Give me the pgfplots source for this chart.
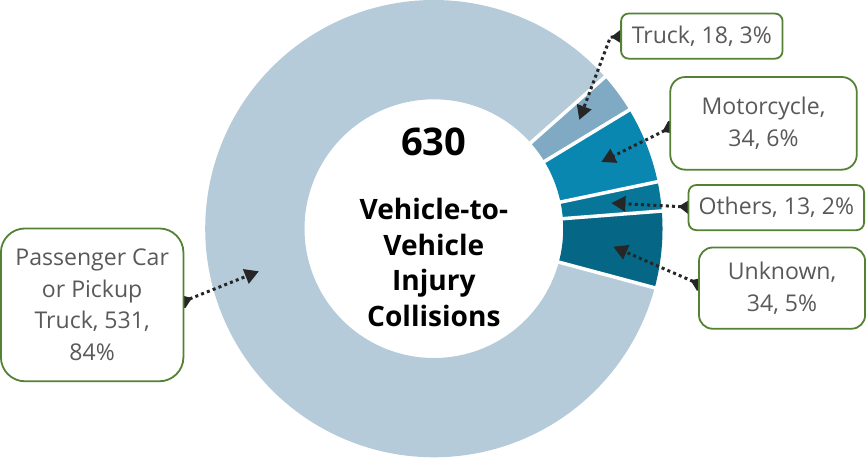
\documentclass[border=0pt]{standalone}
\usepackage{pgfplots}
\pgfplotsset{compat=1.18}
\usepackage{fontspec}
\setmainfont{Open Sans}
\usetikzlibrary{arrows.meta}
\definecolor{cPass}{HTML}{B5CBD9}
\definecolor{cTruck}{HTML}{80AAC4}
\definecolor{cMoto}{HTML}{0A87B0}
\definecolor{cOther}{HTML}{087698}
\definecolor{cUnk}{HTML}{056685}
\definecolor{cGreen}{HTML}{548235}
\definecolor{cText}{HTML}{595959}
\definecolor{cLead}{HTML}{262626}
% data: Passenger Car or Pickup Truck, Truck, Motorcycle, Others, Unknown
\pgfmathsetmacro{\vP}{531}
\pgfmathsetmacro{\vT}{18}
\pgfmathsetmacro{\vM}{34}
\pgfmathsetmacro{\vO}{13}
\pgfmathsetmacro{\vU}{34}
\pgfmathsetmacro{\tot}{\vP+\vT+\vM+\vO+\vU}
\pgfmathsetmacro{\angU}{-15}
\pgfmathsetmacro{\angO}{\angU+\vU/\tot*360}
\pgfmathsetmacro{\angM}{\angO+\vO/\tot*360}
\pgfmathsetmacro{\angT}{\angM+\vM/\tot*360}
\pgfmathsetmacro{\angP}{\angT+\vT/\tot*360}
\pgfmathsetmacro{\angE}{\angP+\vP/\tot*360}
\tikzset{
  lbl/.style={draw=cGreen, line width=0.9pt, fill=white, rounded corners=#1,
    align=center, text=cText, font=\fontsize{11.5}{15.75}\selectfont, inner sep=0pt},
  leader/.style={draw=cLead, line width=1.5pt, dash pattern=on 1.5pt off 1.6pt,
    {Diamond[length=10pt,width=7pt]}-{Triangle[length=7pt,width=7.5pt]}},
  ctr/.style={anchor=base, font=\bfseries\fontsize{14}{17}\selectfont}
}
\begin{document}
\begin{tikzpicture}
\begin{axis}[scale only axis, width=433pt, height=229.5pt,
  xmin=0, xmax=866, ymin=0, ymax=459, y dir=reverse, hide axis, clip=false]
% donut slices (thick arcs at mid radius, butt caps give radial ends)
\addplot[cPass, line width=49.5pt, domain=\angP:\angE, samples=150, variable=\t]
  ({435+178.5*cos(\t)},{229.5-178.5*sin(\t)});
\addplot[cTruck, line width=49.5pt, domain=\angT:\angP, samples=20, variable=\t]
  ({435+178.5*cos(\t)},{229.5-178.5*sin(\t)});
\addplot[cMoto, line width=49.5pt, domain=\angM:\angT, samples=30, variable=\t]
  ({435+178.5*cos(\t)},{229.5-178.5*sin(\t)});
\addplot[cOther, line width=49.5pt, domain=\angO:\angM, samples=15, variable=\t]
  ({435+178.5*cos(\t)},{229.5-178.5*sin(\t)});
\addplot[cUnk, line width=49.5pt, domain=\angU:\angO, samples=30, variable=\t]
  ({435+178.5*cos(\t)},{229.5-178.5*sin(\t)});
% white separators
\foreach \a in {\angU,\angO,\angM,\angT,\angP}{
  \addplot[white, line width=1.75pt, domain=125:232, samples=2, variable=\r]
    ({435+\r*cos(\a)},{229.5-\r*sin(\a)});
}
% centre text
\node[anchor=base, font=\bfseries\fontsize{19}{22}\selectfont] at (axis cs:435,156.7) {630};
\node[ctr] at (axis cs:435,220) {Vehicle-to-};
\node[ctr] at (axis cs:435,256) {Vehicle};
\node[ctr] at (axis cs:435,291.5) {Injury};
\node[ctr] at (axis cs:435,327) {Collisions};
% leader lines
\draw[leader] (axis cs:631.7,37.5) -- (axis cs:611,38.5) -- (axis cs:580,121);
\draw[leader] (axis cs:680.7,124) -- (axis cs:602,163);
\draw[leader] (axis cs:699,208.5) -- (axis cs:612,204);
\draw[leader] (axis cs:709.3,289) -- (axis cs:614,247.5);
\draw[leader] (axis cs:175.3,306) -- (axis cs:260.5,272);
% label boxes
\node[lbl=3.8pt, minimum width=80.5pt, minimum height=22.5pt] at (axis cs:702.2,37.5) {Truck, 18, 3\%};
\node[lbl=7.5pt, minimum width=93pt, minimum height=46.2pt] at (axis cs:763.7,124.5) {Motorcycle,\\34, 6\%};
\node[lbl=3.8pt, minimum width=87.5pt, minimum height=22.5pt] at (axis cs:776.5,208.5) {Others, 13, 2\%};
\node[lbl=6.8pt, minimum width=82.8pt, minimum height=40.5pt] at (axis cs:782.2,288.8) {Unknown,\\34, 5\%};
\node[lbl=12pt, minimum width=91pt, minimum height=76.2pt] at (axis cs:94.3,305.5) {Passenger Car\\or Pickup\\Truck, 531,\\84\%};
\end{axis}
\end{tikzpicture}
\end{document}
